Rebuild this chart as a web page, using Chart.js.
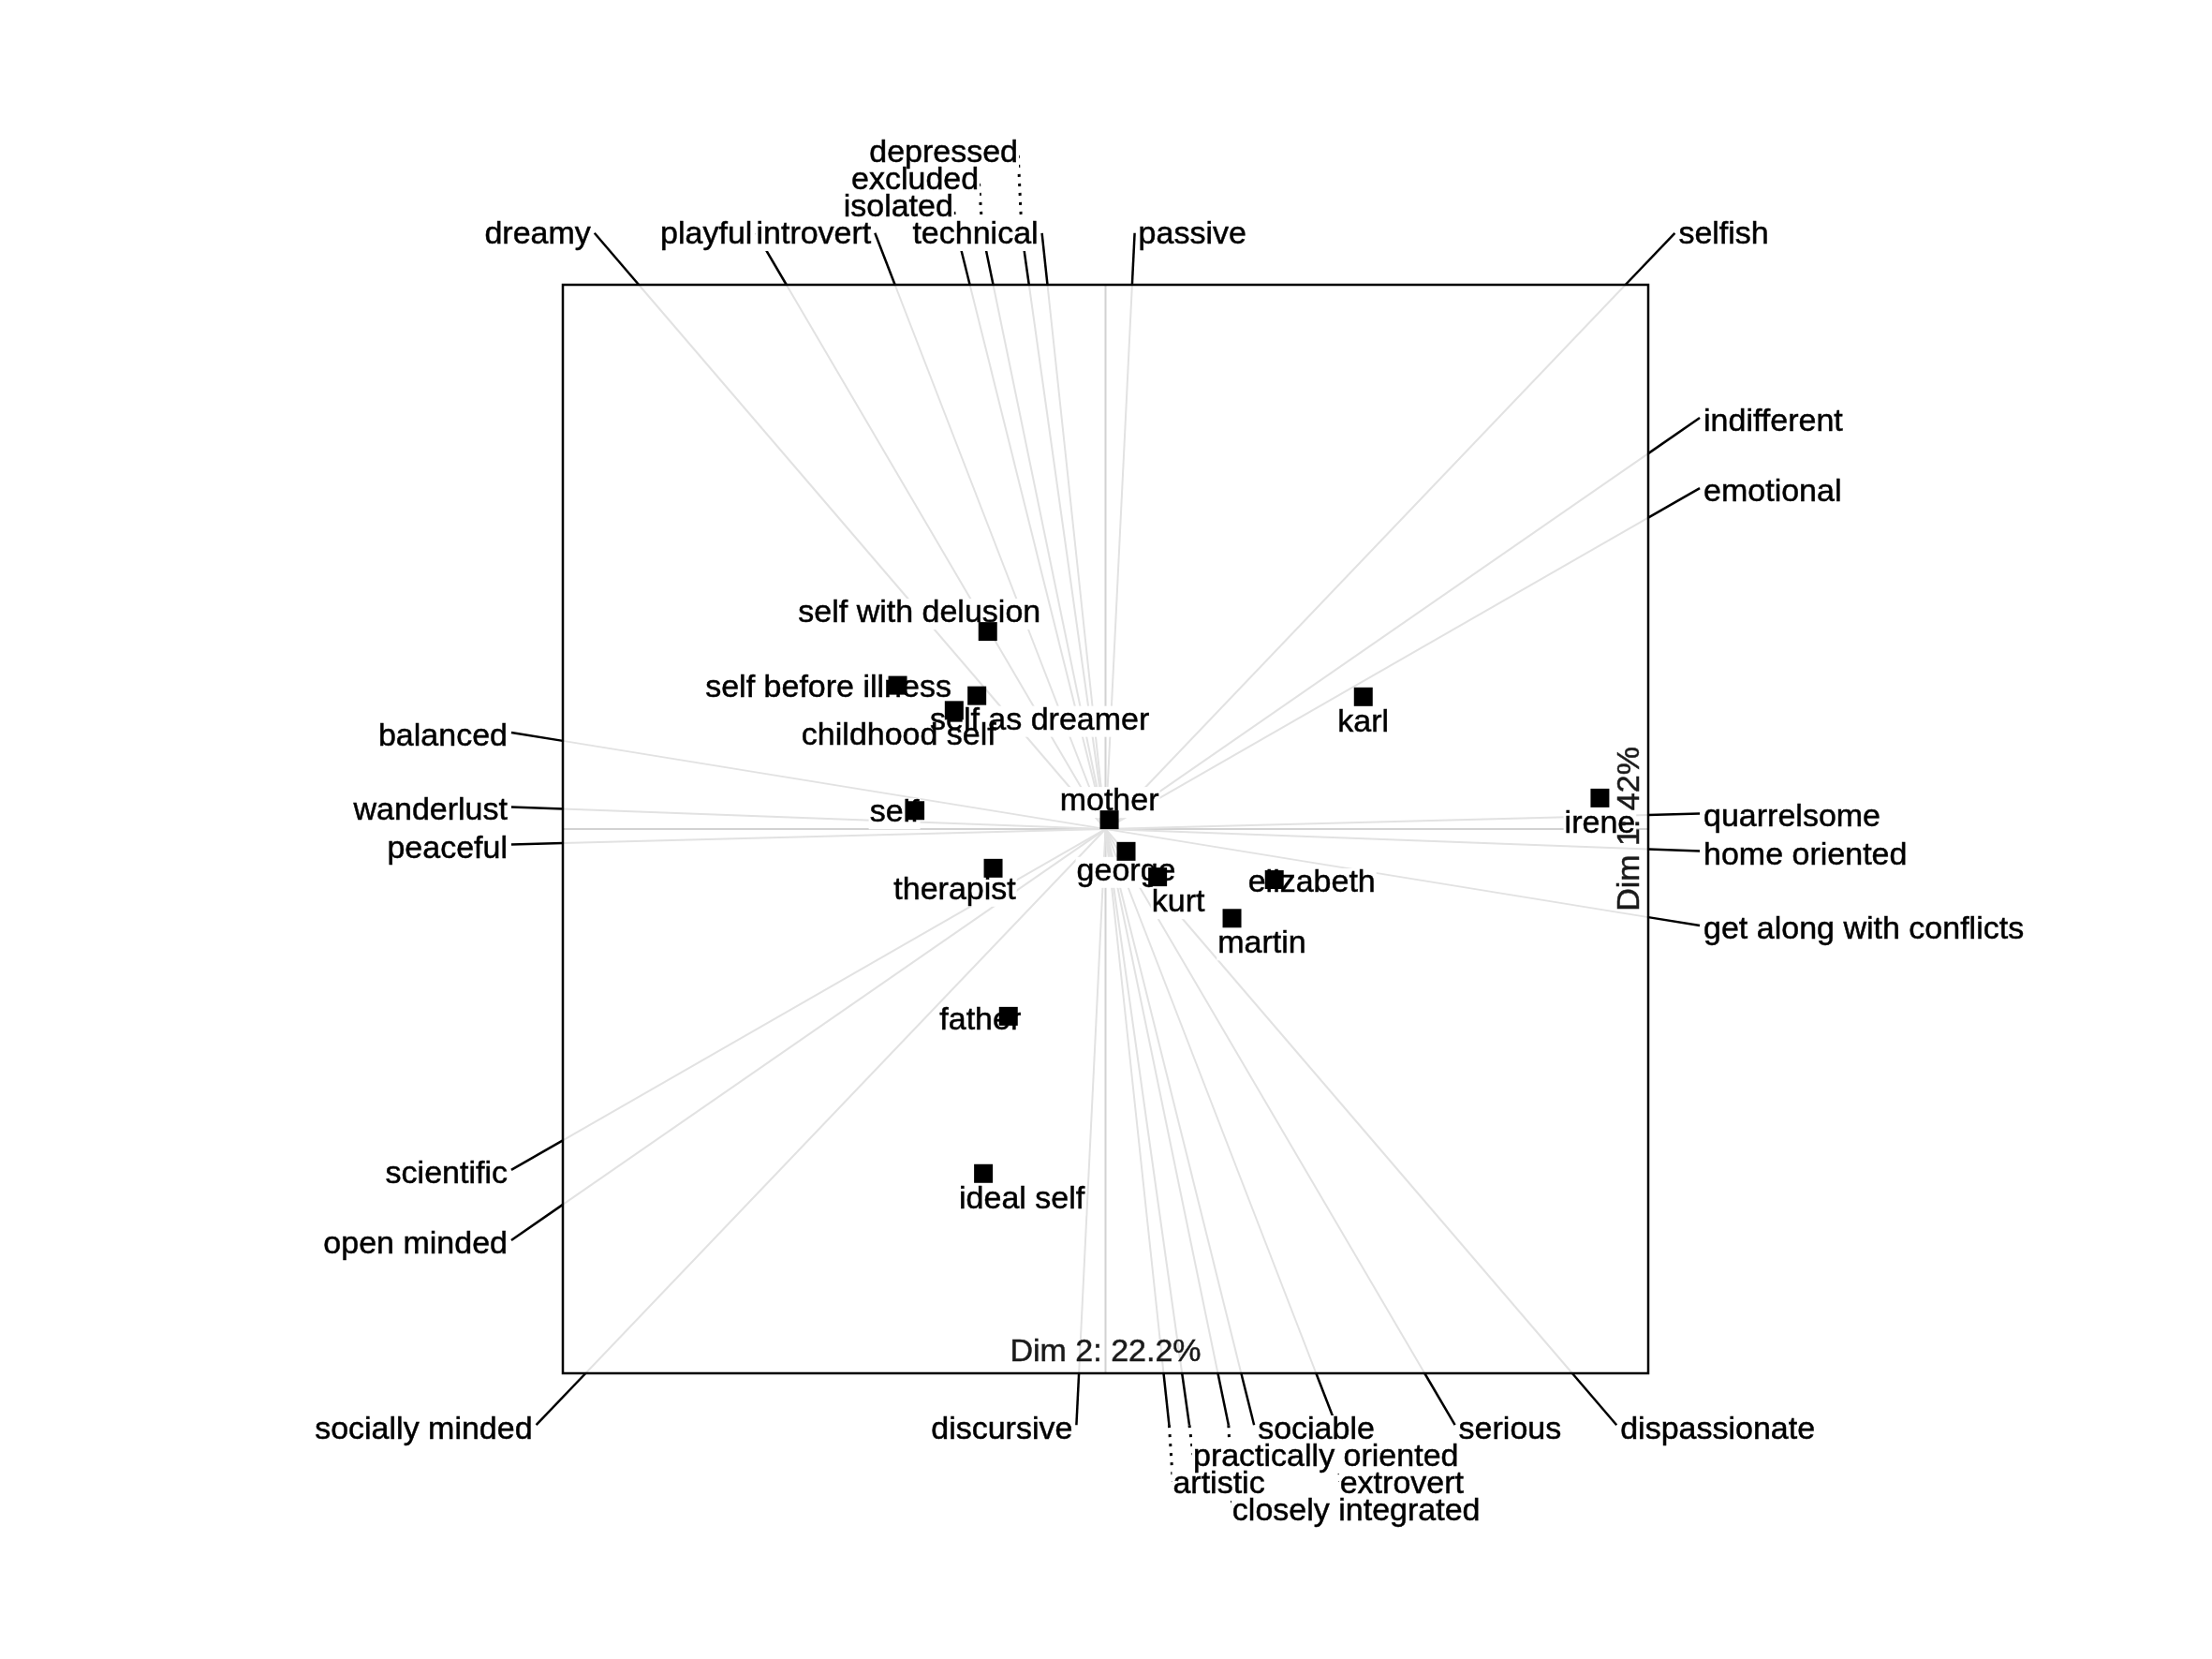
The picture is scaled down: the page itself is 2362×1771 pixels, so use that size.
<!DOCTYPE html>
<html>
<head>
<meta charset="utf-8">
<script src="https://cdn.jsdelivr.net/npm/chart.js@4.4.1/dist/chart.umd.min.js"></script>
<style>
  html, body { margin: 0; padding: 0; background: #fff; }
  canvas { display: block; }
</style>
</head>
<body>
<canvas id="biplot" width="2362" height="1771" style="width:2362px;height:1771px"></canvas>
<script>
// ============================================================
// DATA — element scores (Dim 2 horizontal, Dim 1 vertical)
// ============================================================

const elementNames = [
  'self', 'ideal self', 'mother', 'father', 'kurt', 'karl', 'george', 'martin',
  'elizabeth', 'therapist', 'irene', 'childhood self', 'self before illness',
  'self with delusion', 'self as dreamer'
];
const elementDim2 = [-0.351, -0.225, 0.007, -0.179, 0.096, 0.475, 0.038, 0.233,
  0.311, -0.207, 0.911, -0.279, -0.383, -0.217, -0.237];
const elementDim1 = [0.034, -0.633, 0.017, -0.344, -0.088, 0.243, -0.041, -0.164,
  -0.093, -0.072, 0.057, 0.218, 0.264, 0.363, 0.245];

// Constructs: pole A / pole B and the direction of pole A (pole B is opposite)
const poleA = [
  'dreamy', 'selfish', 'playful', 'introvert', 'isolated', 'excluded', 'depressed',
  'technical', 'passive', 'indifferent', 'emotional', 'quarrelsome', 'home oriented',
  'get along with conflicts'
];
const poleB = [
  'dispassionate', 'socially minded', 'serious', 'extrovert', 'sociable',
  'closely integrated', 'practically oriented', 'artistic', 'discursive',
  'open minded', 'scientific', 'peaceful', 'wanderlust', 'balanced'
];
const poleADim2 = [-0.860, 0.958, -0.588, -0.388, -0.250, -0.207, -0.141, -0.107, 0.049,
  1, 1, 1, 1, 1];
const poleADim1 = [1, 1, 1, 1, 1, 1, 1, 1, 1,
  0.690, 0.572, 0.026, -0.037, -0.162];

const xAxisTitle = 'Dim 2: 22.2%';
const yAxisTitle = 'Dim 1: 42%';

// ============================================================
// LAYOUT — label placement (pixels), kept apart from the data
// ============================================================

// offset of each element label from its point: [dx, baseline dy]
const elementLabelOffset = [
  [-22, 12], [41, 37], [0, -10], [-30, 14], [22, 37], [0, 37], [0, 31], [32, 37],
  [40, 13], [-41, 33], [0, 37], [-59, 37], [-74, 12], [-73, -10], [67, 36]
];
// stacked rows for crowded construct labels
const labelRow = {
  'isolated': 1, 'excluded': 2, 'depressed': 3,
  'practically oriented': 1, 'artistic': 2, 'extrovert': 2, 'closely integrated': 3
};
const LEADER_EXT = 1.095;
const FONT = '34px "Liberation Sans", Arial, sans-serif';

// ============================================================
// DECORATION PLUGIN — construct lines, leaders, labels, frame
// ============================================================

function strokeLine(ctx, x1, y1, x2, y2) {
  ctx.beginPath();
  ctx.moveTo(x1, y1);
  ctx.lineTo(x2, y2);
  ctx.stroke();
}

function whiteBox(ctx, text, tx, ty, align) {
  const w = ctx.measureText(text).width;
  const x0 = align === 'right' ? tx - w : (align === 'center' ? tx - w / 2 : tx);
  ctx.fillStyle = '#fff';
  ctx.fillRect(x0 - 1, ty - 25, w + 2, 33);
}

// slightly heavier text, closer to the reference rendering
function darkText(ctx, text, tx, ty) {
  ctx.fillText(text, tx, ty);
  ctx.strokeText(text, tx, ty);
}

const biplotPlugin = {
  id: 'biplotDecor',
  beforeDatasetsDraw(chart) {
    const { ctx, chartArea: a, scales: { x, y } } = chart;
    const px = v => x.getPixelForValue(v);
    const py = v => y.getPixelForValue(v);

    ctx.save();
    ctx.lineCap = 'butt';

    // axes through the origin
    ctx.strokeStyle = '#d2d2d2';
    ctx.lineWidth = 2;
    strokeLine(ctx, px(-1), py(0), px(1), py(0));
    strokeLine(ctx, px(0), py(-1), px(0), py(1));

    // construct lines, border to border through the origin
    ctx.strokeStyle = '#e2e2e2';
    poleA.forEach((_, i) => {
      const k = Math.max(Math.abs(poleADim2[i]), Math.abs(poleADim1[i]));
      const ex = poleADim2[i] / k, ey = poleADim1[i] / k;
      strokeLine(ctx, px(-ex), py(-ey), px(ex), py(ey));
    });

    // leaders and construct label positions
    const labels = [];
    ctx.strokeStyle = '#000';
    poleA.forEach((_, i) => {
      const k = Math.max(Math.abs(poleADim2[i]), Math.abs(poleADim1[i]));
      [[poleA[i], 1], [poleB[i], -1]].forEach(([name, s]) => {
        const ex = s * poleADim2[i] / k, ey = s * poleADim1[i] / k;
        const Ex = px(ex), Ey = py(ey);
        const Lx = px(ex * LEADER_EXT), Ly = py(ey * LEADER_EXT);
        ctx.setLineDash([]);
        ctx.lineWidth = 2.5;
        strokeLine(ctx, Ex, Ey, Lx, Ly);

        const align = ex < 0 ? 'right' : 'left';
        const tx = Lx + (ex < 0 ? -4 : 4);
        const row = labelRow[name] || 0;
        let ty;
        if (Math.abs(ey) >= Math.abs(ex)) {
          ty = ey > 0 ? a.top - 44 - row * 29 : a.bottom + 70 + row * 29;
        } else {
          ty = Ly + 14;
        }
        if (row > 0) {
          ctx.lineWidth = 3;
          ctx.setLineDash([3, 7]);
          strokeLine(ctx, Lx, Ly, tx, ty - 12);
          ctx.setLineDash([]);
        }
        labels.push({ name, tx, ty, align });
      });
    });

    ctx.font = FONT;
    labels.forEach(l => whiteBox(ctx, l.name, l.tx, l.ty, l.align));
    ctx.fillStyle = '#000';
    ctx.strokeStyle = '#000';
    ctx.lineWidth = 0.5;
    ctx.textBaseline = 'alphabetic';
    labels.forEach(l => {
      ctx.textAlign = l.align;
      darkText(ctx, l.name, l.tx, l.ty);
    });

    // element labels (points are drawn on top by the dataset)
    const elLabels = elementNames.map((name, i) => ({
      name,
      tx: px(elementDim2[i]) + elementLabelOffset[i][0],
      ty: py(elementDim1[i]) + elementLabelOffset[i][1]
    }));
    elLabels.forEach(l => whiteBox(ctx, l.name, l.tx, l.ty, 'center'));
    ctx.fillStyle = '#000';
    ctx.textAlign = 'center';
    elLabels.forEach(l => darkText(ctx, l.name, l.tx, l.ty));

    ctx.restore();
  },
  afterDatasetsDraw(chart) {
    const { ctx, chartArea: a, scales: { x, y } } = chart;
    ctx.save();

    // frame
    ctx.strokeStyle = '#000';
    ctx.lineWidth = 2.5;
    ctx.strokeRect(a.left, a.top, a.right - a.left, a.bottom - a.top);

    // dimension titles inside the frame
    ctx.font = FONT;
    ctx.fillStyle = '#1a1a1a';
    ctx.strokeStyle = '#1a1a1a';
    ctx.lineWidth = 0.5;
    ctx.textAlign = 'center';
    ctx.textBaseline = 'alphabetic';
    darkText(ctx, xAxisTitle, x.getPixelForValue(0), a.bottom - 13);

    ctx.translate(a.right - 10, y.getPixelForValue(0));
    ctx.rotate(-Math.PI / 2);
    darkText(ctx, yAxisTitle, 0, 0);
    ctx.restore();
  }
};

// ============================================================
// CHART
// ============================================================

const points = elementNames.map((_, i) => ({ x: elementDim2[i], y: elementDim1[i] }));

new Chart(document.getElementById('biplot').getContext('2d'), {
  type: 'scatter',
  data: {
    datasets: [{
      data: points,
      pointStyle: 'rect',
      pointRadius: 14.14,
      pointBackgroundColor: '#000',
      pointBorderWidth: 0,
      clip: false
    }]
  },
  options: {
    responsive: false,
    devicePixelRatio: 1,
    animation: false,
    events: [],
    layout: { padding: { left: 601, right: 602, top: 304, bottom: 305 } },
    plugins: { legend: { display: false }, tooltip: { enabled: false } },
    scales: {
      x: { type: 'linear', min: -1, max: 1, display: false },
      y: { type: 'linear', min: -1, max: 1, display: false }
    }
  },
  plugins: [biplotPlugin]
});
</script>
</body>
</html>
